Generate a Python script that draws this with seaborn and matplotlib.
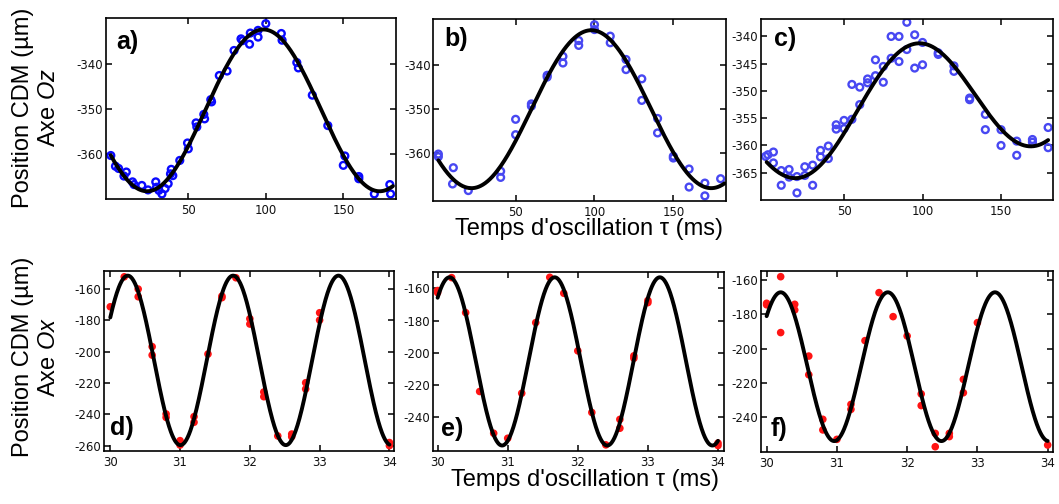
import numpy as np
import pandas as pd
import matplotlib
matplotlib.use("Agg")
import matplotlib.pyplot as plt
import seaborn as sns

# ----------------------------------------------------------
# data (tau in ms, position in um)
# ----------------------------------------------------------
tau_a = [0, 3, 5, 8.5, 10, 14, 15, 20, 24, 29, 29.5, 31, 33, 35, 37, 38.5, 39, 40,
         44.5, 49.5, 50, 55, 55.5, 60, 60.5, 64.5, 65, 70, 75, 79.5, 84, 85, 89.5,
         90, 95, 95, 100, 110, 110.5, 120, 121, 130, 140, 150, 151, 160, 160, 170,
         180, 180.5]
pos_a = [-360.4, -362.8, -363.3, -365.0, -364.1, -366.3, -366.9, -367.1, -368.1,
         -366.3, -367.5, -368.2, -369.0, -367.8, -366.7, -364.5, -363.5, -364.9,
         -361.5, -357.6, -358.9, -353.1, -354.0, -351.2, -352.2, -347.9, -348.4,
         -342.5, -341.5, -336.9, -334.3, -334.7, -335.5, -333.0, -332.4, -333.9,
         -330.9, -333.1, -334.6, -339.6, -340.8, -346.9, -353.7, -362.6, -360.5,
         -365.1, -365.6, -369.0, -366.9, -369.0]

tau_b = [1, 1, 10.5, 10, 20, 40.5, 40.5, 50, 50, 60, 60, 70, 70, 80, 80, 90, 90,
         100, 100, 110, 110, 120, 120, 130, 130, 140, 140, 150, 150, 160, 160,
         170, 170, 180]
pos_b = [-360.2, -360.8, -363.3, -367.0, -368.5, -364.1, -365.5, -352.3, -355.8,
         -348.8, -349.3, -342.3, -342.7, -338.0, -339.5, -334.4, -335.5, -330.8,
         -331.9, -333.4, -334.9, -338.7, -341.0, -343.1, -348.0, -352.1, -355.4,
         -360.7, -361.1, -363.6, -367.7, -366.8, -369.7, -365.8]

tau_c = [0, 1.5, 5, 5, 10, 10, 15, 15, 20, 20, 25, 25, 30, 30, 35, 35, 40, 40,
         45, 45, 50, 50, 55, 55, 60, 60, 65, 65, 70, 70, 75, 75, 80, 80, 85, 85,
         90, 90, 95, 95, 100, 100, 110, 110, 120, 120, 130, 130, 140, 140, 150,
         150, 160, 160, 170, 170, 180, 180]
pos_c = [-362.0, -361.7, -361.2, -363.2, -364.6, -367.3, -364.4, -365.8, -365.7,
         -368.7, -363.9, -365.5, -363.6, -367.3, -360.9, -362.1, -360.1, -362.4,
         -356.2, -357.0, -355.4, -356.9, -355.2, -348.8, -352.5, -349.3, -348.5,
         -347.8, -344.3, -347.2, -345.5, -348.4, -340.0, -344.0, -340.0, -344.6,
         -337.4, -342.4, -339.7, -345.8, -341.1, -345.2, -343.0, -343.3, -345.4,
         -346.4, -351.3, -351.6, -354.3, -357.1, -357.1, -360.0, -359.2, -361.8,
         -358.9, -359.4, -356.7, -360.4]

tau_d = [30.0, 30.2, 30.4, 30.4, 30.6, 30.6, 30.8, 30.8, 31.0, 31.0, 31.2, 31.2,
         31.4, 31.6, 31.6, 31.8, 32.0, 32.0, 32.2, 32.2, 32.4, 32.6, 32.6, 32.8,
         32.8, 33.0, 33.0, 34.0, 34.0]
pos_d = [-171.5, -152.4, -160.2, -165.1, -196.9, -202.3, -239.8, -242.0, -256.8,
         -259.6, -241.5, -245.1, -201.6, -164.7, -165.7, -153.0, -179.1, -182.5,
         -225.8, -228.8, -253.8, -252.6, -254.3, -219.9, -223.9, -175.3, -180.0,
         -258.0, -260.0]

tau_e = [30.0, 30.0, 30.2, 30.4, 30.6, 30.8, 31.0, 31.2, 31.4, 31.6, 31.8, 32.0,
         32.2, 32.4, 32.6, 32.6, 32.8, 32.8, 33.0, 33.0, 34.0, 34.0]
pos_e = [-161.4, -162.7, -153.4, -175.1, -224.0, -249.9, -253.0, -225.1, -181.3,
         -153.2, -163.1, -198.8, -237.0, -257.1, -241.3, -246.8, -201.9, -203.4,
         -167.6, -168.9, -256.0, -257.5]

tau_f = [30.0, 30.0, 30.2, 30.2, 30.4, 30.4, 30.6, 30.6, 30.8, 30.8, 31.0, 31.2,
         31.2, 31.4, 31.6, 31.8, 32.0, 32.2, 32.2, 32.4, 32.4, 32.6, 32.6, 32.8,
         32.8, 33.0, 34.0]
pos_f = [-173.6, -174.5, -158.1, -190.7, -174.2, -177.5, -204.4, -215.3, -241.3,
         -247.5, -253.0, -232.6, -235.5, -195.4, -167.4, -181.4, -192.7, -226.5,
         -233.3, -249.5, -257.3, -249.5, -251.4, -218.0, -225.8, -184.9, -256.3]

# sine fits: (offset, amplitude, period, time of max, drift, t_start, t_end)
fit_a = (-350.3, 18.1, 150.0, 98.4, 0.0, 0, 182)
fit_b = (-350.0, 17.95, 152.0, 98.0, 0.0, 1, 182.5)
fit_c = (-355.9, 10.87, 150.0, 96.0, 0.0389, 0.7, 180)
fit_d = (-205.65, 54.0, 1.51, 30.25, 0.0, 30, 34)
fit_e = (-205.35, 52.15, 1.50, 30.17, 0.0, 30, 34)
fit_f = (-210.6, 43.4, 1.525, 30.2, 0.0, 30, 34)

xticks_top = [50, 100, 150]
xticks_bot = [30, 31, 32, 33, 34]

# ----------------------------------------------------------
# style
# ----------------------------------------------------------
sns.set_style("ticks")
plt.rcParams['font.family'] = ['Liberation Sans', 'DejaVu Sans']
plt.rcParams['mathtext.fontset'] = 'custom'
plt.rcParams['mathtext.rm'] = 'Liberation Sans'
plt.rcParams['mathtext.it'] = 'Liberation Sans:italic'
plt.rcParams['axes.unicode_minus'] = False
plt.rcParams['text.color'] = 'black'
plt.rcParams['axes.labelcolor'] = 'black'
plt.rcParams['xtick.color'] = 'black'
plt.rcParams['ytick.color'] = 'black'

W, H = 1059, 504
fig = plt.figure(figsize=(W / 100, H / 100), dpi=100)


def add_ax(l, t, r, b):
    return fig.add_axes([l / W, 1 - b / H, (r - l) / W, (b - t) / H])


def fit_curve(ax, p):
    off, amp, per, tmax, drift, t0, t1 = p
    t = np.linspace(t0, t1, 600)
    y = off + drift * t + amp * np.cos(2 * np.pi * (t - tmax) / per)
    sns.lineplot(x=t, y=y, ax=ax, color='black', lw=2.8, estimator=None,
                 sort=False, zorder=3)


def style(ax, xlim, ylim, xt, yt, letter, lx, ly):
    ax.set_xlim(*xlim)
    ax.set_ylim(*ylim)
    ax.set_xticks(xt)
    ax.set_yticks(yt)
    ax.set_xticklabels([str(v) for v in xt])
    ax.set_yticklabels([str(v) for v in yt])
    ax.tick_params(direction='in', top=True, right=True, length=4, width=1.1,
                   labelsize=8.5, colors='black')
    ax.tick_params(axis='y', pad=2)
    ax.tick_params(axis='x', pad=3.5)
    for lab in ax.get_xticklabels() + ax.get_yticklabels():
        lab.set_fontfamily('DejaVu Sans')
        lab.set_color('#111111')
    for sp in ax.spines.values():
        sp.set_linewidth(1.2)
        sp.set_color('black')
    ax.set_xlabel('')
    ax.set_ylabel('')
    ax.text(lx, ly, letter, transform=ax.transAxes, fontsize=18,
            fontweight='bold', ha='left', va='center', zorder=5, color='black')


def open_pts(ax, x, y, col):
    df = pd.DataFrame({'tau': x, 'pos': y})
    sns.scatterplot(data=df, x='tau', y='pos', ax=ax, marker='o', s=24,
                    facecolor='none', edgecolor=col, linewidth=1.7, zorder=2)


def full_pts(ax, x, y):
    df = pd.DataFrame({'tau': x, 'pos': y})
    sns.scatterplot(data=df, x='tau', y='pos', ax=ax, marker='o', s=30,
                    color='#ff1414', edgecolor='none', zorder=2)


# top row : axe Oz
ax_a = add_ax(106, 18.3, 395.7, 199.3)
open_pts(ax_a, tau_a, pos_a, '#0a0aff')
fit_curve(ax_a, fit_a)
style(ax_a, (-3.1, 183.8), (-370.2, -329.7), xticks_top, [-360, -350, -340],
      'a)', 0.034, 0.87)

ax_b = add_ax(433.3, 19, 726, 200.7)
open_pts(ax_b, tau_b, pos_b, '#4848f2')
fit_curve(ax_b, fit_b)
style(ax_b, (-2.2, 183.4), (-370.8, -329.5), xticks_top, [-360, -350, -340],
      'b)', 0.037, 0.89)

ax_c = add_ax(761, 19, 1053.3, 200)
open_pts(ax_c, tau_c, pos_c, '#4848f2')
fit_curve(ax_c, fit_c)
style(ax_c, (-2.9, 183.3), (-370.0, -336.8), xticks_top,
      [-365, -360, -355, -350, -345, -340], 'c)', 0.046, 0.89)

# bottom row : axe Ox
ax_d = add_ax(104, 271, 394.3, 451)
full_pts(ax_d, tau_d, pos_d)
fit_curve(ax_d, fit_d)
style(ax_d, (29.91, 34.07), (-263.4, -148.7), xticks_bot,
      [-260, -240, -220, -200, -180, -160], 'd)', 0.019, 0.126)

ax_e = add_ax(432.7, 272.3, 724.3, 451)
full_pts(ax_e, tau_e, pos_e)
fit_curve(ax_e, fit_e)
style(ax_e, (29.93, 34.09), (-260.9, -150.1), xticks_bot,
      [-240, -220, -200, -180, -160], 'e)', 0.029, 0.125)

ax_f = add_ax(761, 270.7, 1053.3, 451.7)
full_pts(ax_f, tau_f, pos_f)
fit_curve(ax_f, fit_f)
style(ax_f, (29.92, 34.08), (-260.2, -154.6), xticks_bot,
      [-240, -220, -200, -180, -160], 'f)', 0.032, 0.126)

# shared labels
fig.text(0.034, 0.787, 'Position CDM (µm)\nAxe $Oz$', rotation=90,
         ha='center', va='center', fontsize=17, multialignment='center')
fig.text(0.034, 0.292, 'Position CDM (µm)\nAxe $Ox$', rotation=90,
         ha='center', va='center', fontsize=17, multialignment='center')
fig.text(0.556, 1 - 235 / H, "Temps d'oscillation τ (ms)", ha='center',
         va='baseline', fontsize=17)
fig.text(0.552, 1 - 486 / H, "Temps d'oscillation τ (ms)", ha='center',
         va='baseline', fontsize=17)

fig.savefig("out.png", dpi=100)
